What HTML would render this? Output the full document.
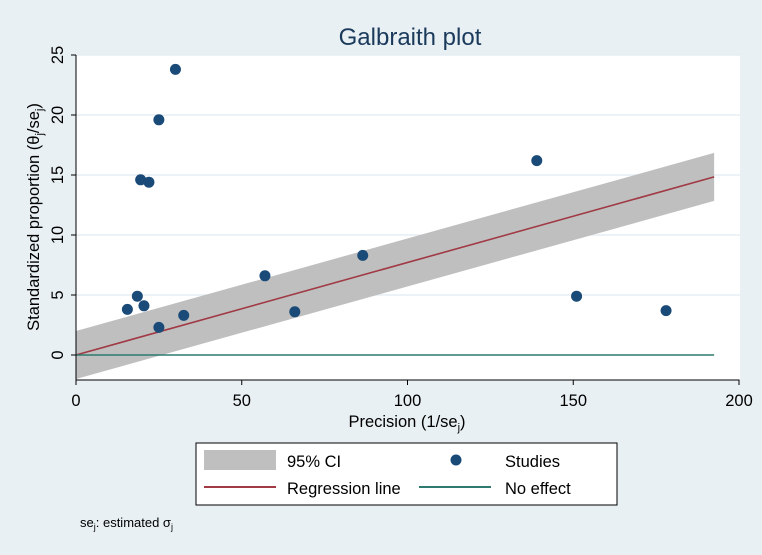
<!DOCTYPE html>
<html><head><meta charset="utf-8"><style>
html,body{margin:0;padding:0;background:#e9f0f3}
svg{display:block;font-family:"Liberation Sans",sans-serif}
</style></head><body>
<svg id="c" width="762" height="555" viewBox="0 0 762 555">
<rect x="0" y="0" width="762" height="555" fill="#e9f0f3"/>
<text x="410" y="45" font-size="24" fill="#1a3a5c" text-anchor="middle">Galbraith plot</text>
<rect x="76" y="55" width="664" height="325" fill="#fff"/>
<g id="grid"></g><g id="band"></g><g id="lines"></g><g id="pts"></g><g id="axes"></g>
<text transform="translate(39,217) rotate(-90)" font-size="16.5" text-anchor="middle">Standardized proportion  (θ<tspan font-size="11" dy="4">j</tspan><tspan dy="-4">/se</tspan><tspan font-size="11" dy="4">j</tspan><tspan dy="-4">)</tspan></text>
<text x="407" y="427" font-size="16.5" text-anchor="middle">Precision (1/se<tspan font-size="11" dy="4">j</tspan><tspan dy="-4">)</tspan></text>
<g>
<rect x="196" y="443" width="421" height="62" fill="#fff" stroke="#000" stroke-width="1"/>
<rect x="204" y="450" width="72" height="20" fill="#bfbfbf"/>
<text x="287" y="467" font-size="16.5">95% CI</text>
<line x1="204" y1="487" x2="276" y2="487" stroke="#a03a45" stroke-width="2"/>
<text x="287" y="494" font-size="16.5">Regression line</text>
<circle cx="456" cy="460" r="5.5" fill="#1a4a78"/>
<text x="505" y="467" font-size="16.5">Studies</text>
<line x1="419" y1="487" x2="491" y2="487" stroke="#2e7a6e" stroke-width="2"/>
<text x="505" y="494" font-size="16.5">No effect</text>
</g>
<text x="80" y="527" font-size="13">se<tspan font-size="9" dy="3">j</tspan><tspan dy="-3">: estimated σ</tspan><tspan font-size="9" dy="3">j</tspan></text>
</svg>
<script>
const studyX=[15.5,18.5,19.5,20.5,22,25,25,30,32.5,57,66,86.5,139,151,178];
const studyY=[3.8,4.9,14.6,4.1,14.4,19.6,2.3,23.8,3.3,6.6,3.6,8.3,16.2,4.9,3.7];
const xTicks=[0,50,100,150,200];
const yTicks=[0,5,10,15,20,25];
const slope=[0.0771];
const ciHalf=[2.0];
const xMaxLine=[192.5];
const NS="http://www.w3.org/2000/svg";
const X=v=>76+v*(663/200);
const Y=v=>355-v*12;
function mk(tag,attrs,parent){const e=document.createElementNS(NS,tag);for(const k in attrs)e.setAttribute(k,attrs[k]);document.getElementById(parent).appendChild(e);return e;}
yTicks.forEach(t=>{if(t>0){const g=mk('line',{x1:76,x2:740,y1:Y(t),y2:Y(t),stroke:'#e6eef3','stroke-width':1.5},'grid');

}});
const xe=xMaxLine[0],s=slope[0],h=ciHalf[0];
const band=mk('polygon',{points:`${X(0)},${Y(h)} ${X(xe)},${Y(s*xe+h)} ${X(xe)},${Y(s*xe-h)} ${X(0)},${Y(-h)}`,fill:'#bfbfbf'},'band');


const reg=mk('line',{x1:X(0),y1:Y(0),x2:X(xe),y2:Y(s*xe),stroke:'#a03a45','stroke-width':1.6},'lines');


const ne=mk('line',{x1:X(0),y1:Y(0),x2:X(xe),y2:Y(0),stroke:'#2e7a6e','stroke-width':1.6},'lines');


studyX.forEach((x,i)=>{const c=mk('circle',{cx:X(x),cy:Y(studyY[i]),r:5.5,fill:'#1a4a78'},'pts');

});
const ax=mk('path',{d:`M76,${Y(25)} V380 H${X(200)} V385`,fill:'none',stroke:'#000','stroke-width':1},'axes');


xTicks.forEach(t=>{mk('line',{x1:X(t),x2:X(t),y1:380,y2:385,stroke:'#000'},'axes');
const l=mk('text',{x:X(t),y:406,'font-size':16.5,'text-anchor':'middle'},'axes');l.textContent=t;

});
yTicks.forEach(t=>{mk('line',{x1:71,x2:76,y1:Y(t),y2:Y(t),stroke:'#000'},'axes');
const l=mk('text',{x:0,y:0,'font-size':16.5,'text-anchor':'middle',transform:`translate(63,${Y(t)}) rotate(-90)`},'axes');l.textContent=t;

});
</script>
</body></html>
